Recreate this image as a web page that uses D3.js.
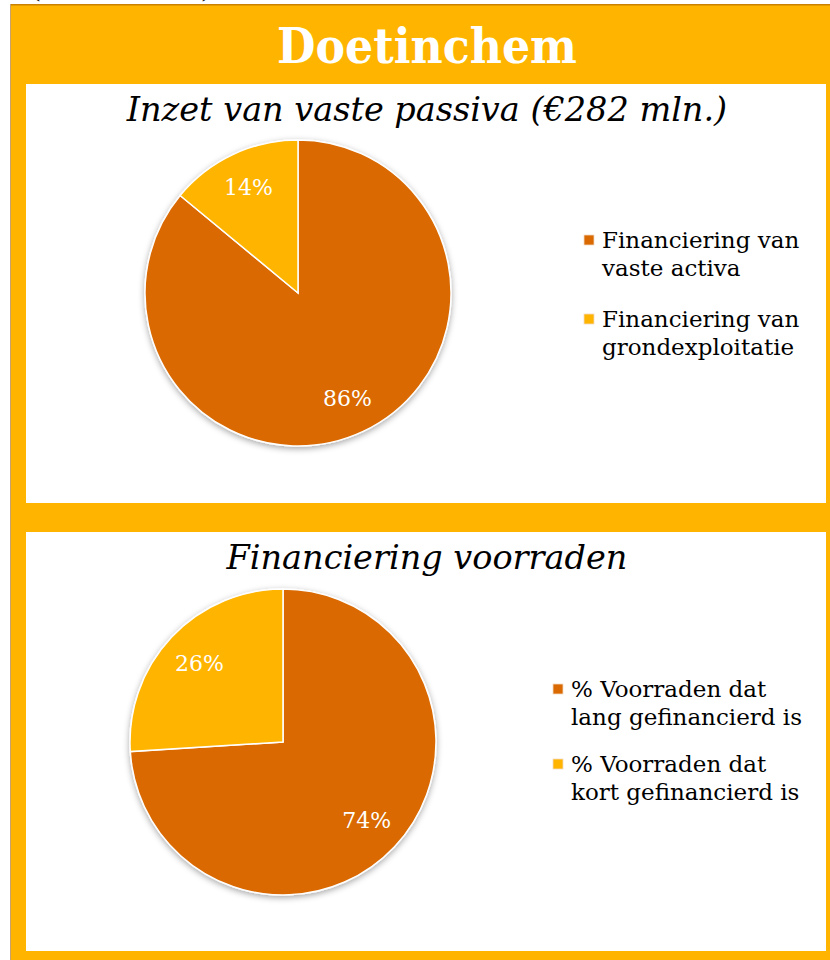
<!DOCTYPE html>
<html><head><meta charset="utf-8">
<script src="https://cdn.jsdelivr.net/npm/d3@7"></script>
<style>body{margin:0;background:#fff}svg{display:block}</style>
</head><body>
<svg id="c" width="830" height="960"></svg>
<script>
// ---- data ----
const pageTitle = "Doetinchem";
const topCaption = "(Doetinchem)";
const chart1Title = "Inzet van vaste passiva (€282 mln.)";
const chart1Categories = [["Financiering van", "vaste activa"], ["Financiering van", "grondexploitatie"]];
const chart1Values = [86, 14];
const chart2Title = "Financiering voorraden";
const chart2Categories = [["% Voorraden dat", "lang gefinancierd is"], ["% Voorraden dat", "kort gefinancierd is"]];
const chart2Values = [74, 26];
const sliceColors = ["#D96900", "#FFB400"];

// ---- layout ----
const svg = d3.select("#c");
const FRAME = "#FFB500";
const serif = "'DejaVu Serif', Georgia, serif";

const defs = svg.append("defs");
const f = defs.append("filter").attr("id", "sh").attr("x", "-20%").attr("y", "-20%").attr("width", "140%").attr("height", "140%");
f.append("feDropShadow").attr("dx", 0).attr("dy", 2).attr("stdDeviation", 3)
  .attr("flood-color", "#000").attr("flood-opacity", 0.35);

// caption cut off at the very top, as in the reference
svg.append("text").attr("x", 31).attr("y", -2)
  .attr("font-family", serif).attr("font-size", 22)
  .attr("textLength", 180).attr("lengthAdjust", "spacingAndGlyphs")
  .attr("fill", "#000").text(topCaption);

// orange frame
svg.append("rect").attr("x", 10).attr("y", 4).attr("width", 830).attr("height", 970)
  .attr("fill", FRAME);
svg.append("rect").attr("x", 10).attr("y", 4).attr("width", 820).attr("height", 1.5).attr("fill", "#C98200");
svg.append("rect").attr("x", 10).attr("y", 4).attr("width", 1).attr("height", 960).attr("fill", "#C9A070");

svg.append("text").attr("x", 427).attr("y", 63).attr("text-anchor", "middle")
  .attr("font-family", serif).attr("font-weight", "bold").attr("font-size", 48)
  .attr("textLength", 300).attr("lengthAdjust", "spacingAndGlyphs")
  .attr("fill", "#fff").text(pageTitle);

const panels = [
  {y: 84, title: chart1Title, cats: chart1Categories, vals: chart1Values, cx: 272, cy: 209, lx: 558, ly: 164, gap: 79, lr: 0.76},
  {y: 532, title: chart2Title, cats: chart2Categories, vals: chart2Values, cx: 257, cy: 210, lx: 527, ly: 165, gap: 75, lr: 0.75}
];

const R = 153;
const pie = d3.pie().sort(null).value(d => d);
const arc = d3.arc().innerRadius(0).outerRadius(R);
const color = d3.scaleOrdinal().domain([0, 1]).range(sliceColors);

panels.forEach(p => {
  const labelArc = d3.arc().innerRadius(R * p.lr).outerRadius(R * p.lr);
  const g = svg.append("g").attr("transform", `translate(26,${p.y})`);
  g.append("rect").attr("width", 800).attr("height", 419).attr("fill", "#fff");
  g.append("text").attr("x", 401).attr("y", 37).attr("text-anchor", "middle")
    .attr("font-family", serif).attr("font-style", "italic").attr("font-size", 33.5)
    .attr("fill", "#000").text(p.title);

  const pg = g.append("g").attr("transform", `translate(${p.cx},${p.cy})`);
  const arcs = pie(p.vals);
  pg.append("g").attr("filter", "url(#sh)")
    .selectAll("path").data(arcs).join("path")
    .attr("d", arc).attr("fill", (d, i) => color(i))
    .attr("stroke", "#fff").attr("stroke-width", 1.5);
  pg.selectAll("text").data(arcs).join("text")
    .attr("transform", d => `translate(${labelArc.centroid(d)})`)
    .attr("text-anchor", "middle").attr("dy", "0.35em")
    .attr("font-family", serif).attr("font-size", 22).attr("fill", "#fff")
    .text(d => d.data + "%");

  const lg = g.append("g").attr("transform", `translate(${p.lx},${p.ly})`);
  p.cats.forEach((lines, i) => {
    const e = lg.append("g").attr("transform", `translate(0,${i * p.gap})`);
    e.append("rect").attr("x", 0).attr("y", -13).attr("width", 10).attr("height", 10)
      .attr("fill", color(i)).attr("stroke", "#f3d9c0").attr("stroke-width", 0.8);
    const t = e.append("text").attr("x", 18).attr("y", 0)
      .attr("font-family", serif).attr("font-size", 23).attr("fill", "#000");
    lines.forEach((l, j) => t.append("tspan").attr("x", 18).attr("dy", j ? 28 : 0).text(l));
  });
});
</script>
</body></html>
